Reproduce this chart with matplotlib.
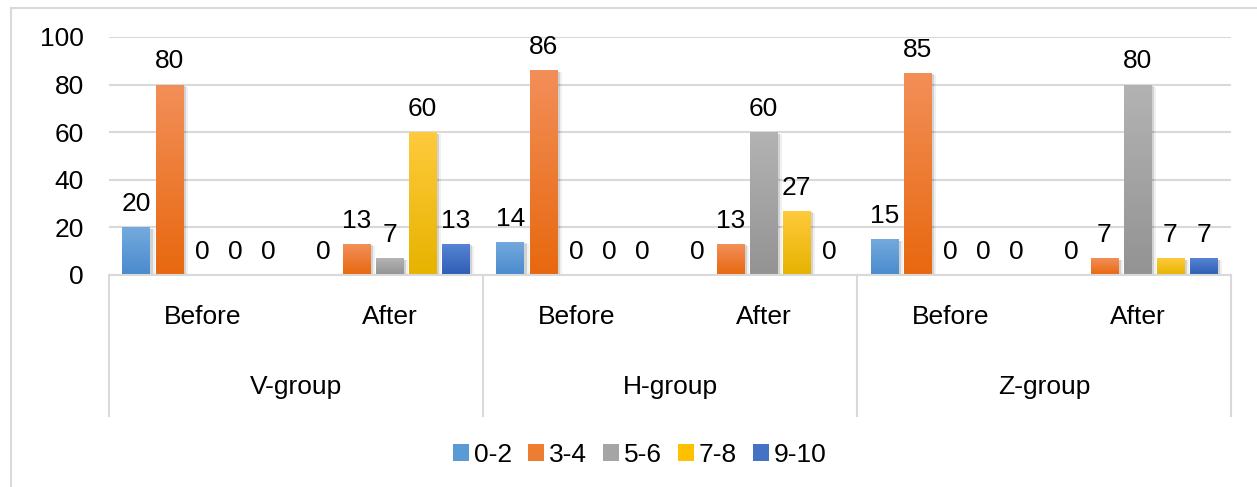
import matplotlib
matplotlib.use("Agg")
import matplotlib.pyplot as plt
import matplotlib.patheffects as pe
from matplotlib.colors import LinearSegmentedColormap
from matplotlib.patches import Patch
import numpy as np

plt.rcParams['font.family'] = ['Liberation Sans', 'DejaVu Sans']

# Data
groups = ['V-group', 'H-group', 'Z-group']
phases = ['Before', 'After']
series = ['0-2', '3-4', '5-6', '7-8', '9-10']
s_0_2 = [20, 0, 14, 0, 15, 0]
s_3_4 = [80, 13, 86, 13, 85, 7]
s_5_6 = [0, 7, 0, 60, 0, 80]
s_7_8 = [0, 60, 0, 27, 0, 7]
s_9_10 = [0, 13, 0, 0, 0, 7]
all_values = [s_0_2, s_3_4, s_5_6, s_7_8, s_9_10]

# gradient colours (top, bottom) and flat colour for legend
grad_top = ['#74aade', '#f28f58', '#b3b3b3', '#ffca3c', '#5584d4']
grad_bot = ['#4a8acd', '#e8680f', '#939393', '#e6b300', '#2e5db5']
flat = ['#5b9bd5', '#ed7d31', '#a5a5a5', '#ffc000', '#4472c4']

fs = 19

fig = plt.figure(figsize=(12.57, 4.87), dpi=100)
ax = fig.add_axes([109 / 1257, 1 - 275 / 487, 1122 / 1257, 238 / 487])

n_cat = len(groups) * len(phases)
x = np.arange(n_cat)
step = 33 / 187
width = 28 / 187
grad = np.linspace(0, 1, 64).reshape(-1, 1)

for k, vals in enumerate(all_values):
    xs = x + (k - 2) * step
    bars = ax.bar(xs, vals, width=width, color=flat[k], zorder=3,
                  path_effects=[pe.SimplePatchShadow(offset=(2, -1), alpha=0.12, shadow_rgbFace='#000000'),
                                pe.SimplePatchShadow(offset=(3.5, -1.5), alpha=0.06, shadow_rgbFace='#000000'),
                                pe.Normal()])
    cmap = LinearSegmentedColormap.from_list('g%d' % k, [grad_bot[k], grad_top[k]])
    for rect, v in zip(bars, vals):
        if v > 0:
            x0 = rect.get_x()
            im = ax.imshow(grad, extent=(x0, x0 + rect.get_width(), 0, v),
                           origin='lower', aspect='auto', cmap=cmap, zorder=4)
            im.set_clip_path(rect)
        ax.annotate(str(v), (rect.get_x() + rect.get_width() / 2, v),
                    xytext=(0, 8), textcoords='offset points',
                    ha='center', va='bottom', fontsize=fs, color='#000000', zorder=5)

ax.set_xlim(-0.5, n_cat - 0.5)
ax.set_ylim(0, 100)
ax.set_yticks(np.arange(0, 101, 20))
ax.tick_params(axis='y', length=0, labelsize=fs, pad=18)
ax.set_xticks([])
ax.yaxis.grid(True, color='#d9d9d9', linewidth=1.5, zorder=0)
ax.set_axisbelow(True)
for s in ax.spines.values():
    s.set_visible(False)

# multi-level category axis
tr = ax.get_xaxis_transform()
ax.plot([-0.5, n_cat - 0.5], [0, 0], color='#d9d9d9', lw=1.5, transform=tr, clip_on=False, zorder=6)
low = (275 - 416) / 238
for b in np.arange(-0.5, n_cat, 2):
    ax.plot([b, b], [0, low], color='#d9d9d9', lw=1.5, transform=tr, clip_on=False)
for i in range(n_cat):
    ax.text(x[i], (275 - 317) / 238, phases[i % 2], transform=tr, ha='center', va='center', fontsize=fs)
for g, name in enumerate(groups):
    ax.text(2 * g + 0.5, (275 - 387) / 238, name, transform=tr, ha='center', va='center', fontsize=fs)

# chart border (left and top visible)
fig.add_artist(plt.Line2D([11 / 1257, 11 / 1257], [0, 1 - 8 / 487], color='#d9d9d9', lw=1.5))
fig.add_artist(plt.Line2D([11 / 1257, 1], [1 - 8 / 487, 1 - 8 / 487], color='#d9d9d9', lw=1.5))

handles = [Patch(facecolor=flat[k], edgecolor='none') for k in range(len(series))]
fig.legend(handles, series, loc='center', bbox_to_anchor=(640 / 1257, 1 - 455 / 487),
           ncol=5, frameon=False, fontsize=fs, handlelength=0.6, handleheight=0.6,
           handletextpad=0.2, columnspacing=0.6)

fig.savefig('out.png', dpi=100)
